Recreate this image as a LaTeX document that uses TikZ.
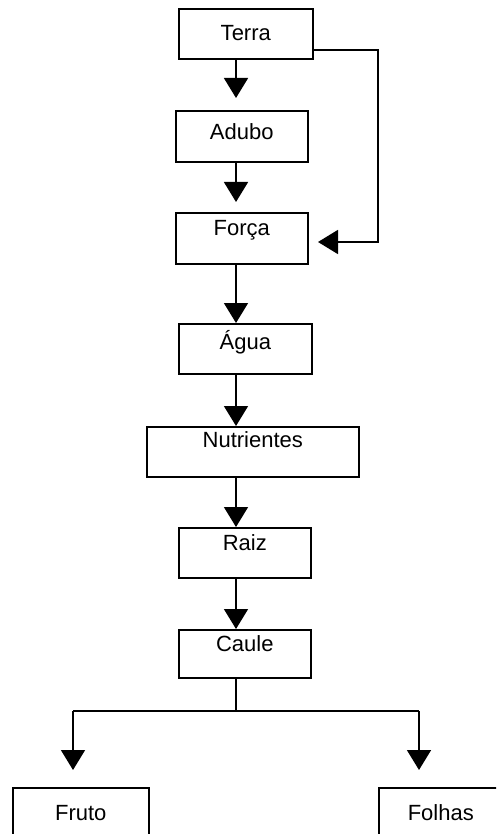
\documentclass[tikz,border=0pt]{standalone}
\usepackage{fontspec}
\setmainfont{Liberation Sans}
\usetikzlibrary{arrows.meta}

\begin{document}
\begin{tikzpicture}[
    x=1pt, y=-1pt,
    caixa/.style={rectangle, draw, line width=1.6pt, inner sep=0pt, minimum width=132pt, anchor=north west, font=\fontsize{22}{26}\selectfont},
    seta/.style={line width=1.6pt, -{Triangle[length=20pt, width=24pt]}},
    linha/.style={line width=1.6pt}
]
    \useasboundingbox (0,0) rectangle (496,834);
    \clip (0,0) rectangle (496,834);

    % Coluna principal
    \node[caixa, minimum width=134pt, text height=32pt, text depth=18pt] (terra) at (178,8) {Terra};
    \node[caixa, text height=29pt, text depth=22pt] (adubo) at (175,110) {Adubo};
    \node[caixa, text height=23pt, text depth=28pt] (forca) at (175,212) {Força};
    \node[caixa, minimum width=133pt, text height=26pt, text depth=24pt] (agua) at (178,323) {Água};
    \node[caixa, minimum width=212pt, text height=21pt, text depth=29pt] (nutrientes) at (146,426) {Nutrientes};
    \node[caixa, text height=23pt, text depth=27pt] (raiz) at (178,527) {Raiz};
    \node[caixa, text height=22pt, text depth=26pt] (caule) at (178,629) {Caule};

    % Ramos
    \node[caixa, minimum width=136pt, text height=33pt, text depth=40pt] (fruto) at (12,787) {Fruto};
    \node[caixa, minimum width=124pt, text height=33pt, text depth=40pt] (folhas) at (378,787) {Folhas};

    \coordinate (eixo) at (236,0);
    \coordinate (dobra) at (378,50);
    \coordinate (entrada) at (318,242);
    \coordinate (ramo) at (236,711);
    \coordinate (esq) at (73,711);
    \coordinate (dir) at (419,711);

    % Setas
    \draw[seta, shorten >=12pt] (terra.south -| eixo) -- (adubo.north -| eixo);
    \draw[seta, shorten >=10pt] (adubo.south -| eixo) -- (forca.north -| eixo);
    \draw[seta] (forca.south -| eixo) -- (agua.north -| eixo);
    \draw[seta] (agua.south -| eixo) -- (nutrientes.north -| eixo);
    \draw[seta] (nutrientes.south -| eixo) -- (raiz.north -| eixo);
    \draw[seta] (raiz.south -| eixo) -- (caule.north -| eixo);

    % Terra direto para Força
    \draw[seta] (terra.east |- dobra) -- (dobra) |- (entrada);

    % Caule para Fruto e Folhas
    \draw[linha] (caule.south -| ramo) -- (ramo);
    \draw[linha] (esq) -- (dir);
    \draw[seta, shorten >=17pt] (esq) -- (esq |- fruto.north);
    \draw[seta, shorten >=17pt] (dir) -- (dir |- folhas.north);
\end{tikzpicture}
\end{document}
